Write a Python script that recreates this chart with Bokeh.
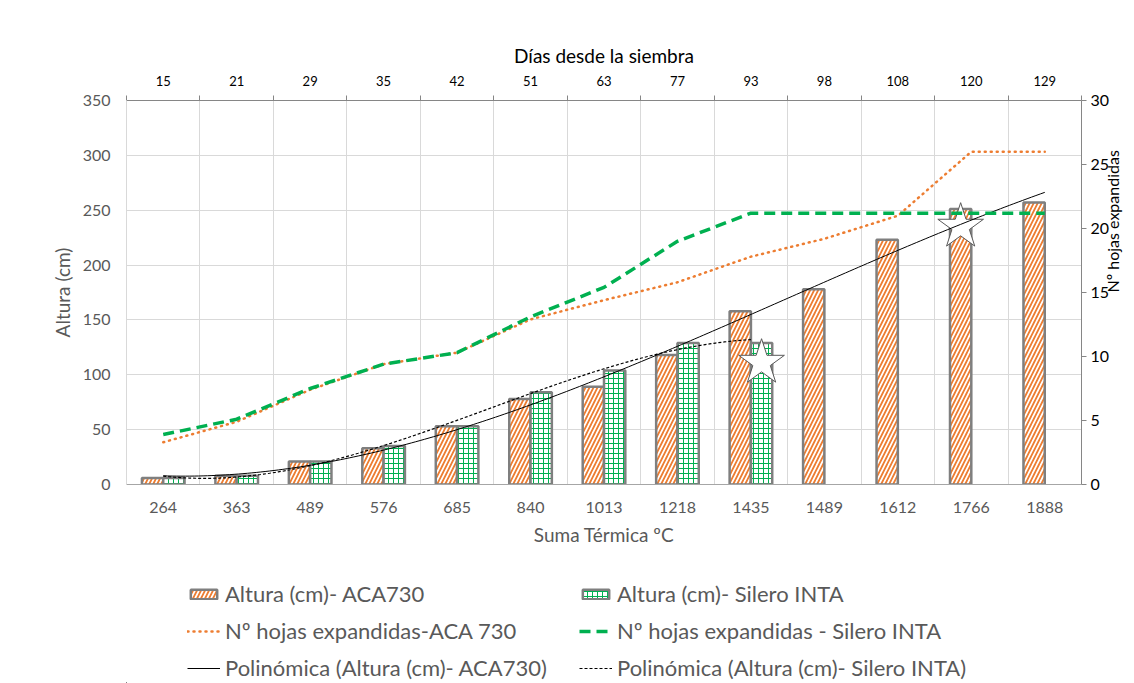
import numpy as np
from bokeh.plotting import figure
from bokeh.layouts import column
from bokeh.models import (Range1d, LinearAxis, FixedTicker, Legend, LegendItem,
                          ColumnDataSource)
from bokeh.embed import file_html
from bokeh.resources import INLINE

# ---------------- data ----------------
suma_termica = ["264", "363", "489", "576", "685", "840", "1013", "1218",
                "1435", "1489", "1612", "1766", "1888"]
dias = ["15", "21", "29", "35", "42", "51", "63", "77", "93", "98", "108",
        "120", "129"]
altura_aca = [6, 8, 21, 33, 53, 78, 89, 118, 158, 178, 223, 251, 257]
altura_silero = [6, 8, 21, 35, 53, 84, 104, 129, 129]
hojas_aca = [3.3, 4.9, 7.4, 9.4, 10.3, 12.9, 14.4, 15.8, 17.8, 19.2, 21.0, 26.0, 26.0]
hojas_silero = [3.9, 5.1, 7.5, 9.4, 10.3, 13.1, 15.4, 19.0, 21.2, 21.2, 21.2, 21.2, 21.2]
star_category = ["1435", "1766"]
star_series = ["Silero INTA", "ACA730"]
star_altura = [111, 235]
left_ticks = [0, 50, 100, 150, 200, 250, 300, 350]
right_ticks = [0, 5, 10, 15, 20, 25, 30]
legend_labels_aca = ["Altura (cm)- ACA730", "Nº hojas expandidas-ACA 730",
                     "Polinómica (Altura (cm)- ACA730)"]
legend_labels_sil = ["Altura (cm)- Silero INTA", "Nº hojas expandidas - Silero INTA",
                     "Polinómica (Altura (cm)- Silero INTA)"]

# ---------------- style ----------------
FONT = "Lato"
ORANGE = "#ED7D31"
GREEN = "#00B050"
BAR_LINE = "#7F7F7F"
GRID = "#D9D9D9"
TXT = "#595959"
AXL = "#868686"
OFF = 0.145
BW = 0.29

BAR_ACA = dict(fill_color="white", line_color=BAR_LINE, line_width=2.5,
               hatch_pattern="/", hatch_color=ORANGE, hatch_scale=8, hatch_weight=1.8)
BAR_SIL = dict(fill_color="white", line_color=BAR_LINE, line_width=2.5,
               hatch_pattern="+", hatch_color=GREEN, hatch_scale=5, hatch_weight=1)
LINE_HA = dict(line_color=ORANGE, line_width=2.5, line_dash="1 5", line_cap="round")
LINE_HS = dict(line_color=GREEN, line_width=3.5, line_dash="11 6")
LINE_TA = dict(line_color="black", line_width=1)
LINE_TS = dict(line_color="black", line_width=1.2, line_dash="3 2")

n = len(suma_termica)
centers = [i + 0.5 for i in range(n)]
bounds = list(range(n + 1))

p = figure(width=1134, height=560, x_range=Range1d(0, n), y_range=Range1d(0, 350),
           output_backend="svg", toolbar_location=None,
           min_border_left=126, min_border_right=51, min_border_top=100,
           min_border_bottom=76)
p.extra_y_ranges = {"hojas": Range1d(0, 30)}
p.outline_line_color = None
p.background_fill_color = "white"
p.border_fill_color = "white"

# grids
p.xgrid.ticker = FixedTicker(ticks=bounds)
p.ygrid.ticker = FixedTicker(ticks=left_ticks)
for g in (p.xgrid[0], p.ygrid[0]):
    g.grid_line_color = GRID
    g.grid_line_width = 1

# bottom axis
xb = p.below[0]
xb.ticker = FixedTicker(ticks=centers)
xb.major_label_overrides = {c: s for c, s in zip(centers, suma_termica)}
xb.major_tick_line_color = None
xb.minor_tick_line_color = None
xb.major_tick_out = 0
xb.major_tick_in = 0
xb.axis_line_color = "#A6A6A6"
xb.major_label_text_font = FONT
xb.major_label_text_font_size = "16px"
xb.major_label_text_color = TXT
xb.major_label_standoff = 17
xb.axis_label = "Suma Térmica ºC"
xb.axis_label_text_font = FONT
xb.axis_label_text_font_size = "19px"
xb.axis_label_text_font_style = "normal"
xb.axis_label_text_color = TXT
xb.axis_label_standoff = 7

# left axis
yl = p.left[0]
yl.ticker = FixedTicker(ticks=left_ticks)
yl.major_tick_line_color = None
yl.minor_tick_line_color = None
yl.major_tick_out = 0
yl.major_tick_in = 0
yl.axis_line_color = GRID
yl.major_label_text_font = FONT
yl.major_label_text_font_size = "16px"
yl.major_label_text_color = TXT
yl.major_label_standoff = 16
yl.axis_label = "Altura (cm)"
yl.axis_label_text_font = FONT
yl.axis_label_text_font_size = "19px"
yl.axis_label_text_font_style = "normal"
yl.axis_label_text_color = TXT
yl.axis_label_standoff = 6

# top axis (days)
xt = LinearAxis(ticker=FixedTicker(ticks=centers, minor_ticks=bounds))
xt.major_label_overrides = {c: s for c, s in zip(centers, dias)}
xt.major_tick_line_color = None
xt.major_tick_out = 0
xt.major_tick_in = 0
xt.minor_tick_line_color = AXL
xt.minor_tick_out = 5
xt.minor_tick_in = 0
xt.axis_line_color = AXL
xt.major_label_text_font = FONT
xt.major_label_text_font_size = "13px"
xt.major_label_text_color = "black"
xt.major_label_standoff = 10
xt.axis_label = "Días desde la siembra"
xt.axis_label_text_font = FONT
xt.axis_label_text_font_size = "19px"
xt.axis_label_text_font_style = "normal"
xt.axis_label_text_color = "black"
xt.axis_label_standoff = 6
p.add_layout(xt, "above")

# right axis (leaves)
yr = LinearAxis(y_range_name="hojas", ticker=FixedTicker(ticks=right_ticks))
yr.major_tick_line_color = AXL
yr.major_tick_out = 5
yr.major_tick_in = 0
yr.minor_tick_line_color = None
yr.axis_line_color = AXL
yr.major_label_text_font = FONT
yr.major_label_text_font_size = "16px"
yr.major_label_text_color = "black"
yr.major_label_standoff = 4
yr.axis_label = "Nº hojas expandidas"
yr.axis_label_orientation = np.pi / 2
yr.axis_label_text_font = FONT
yr.axis_label_text_font_size = "16px"
yr.axis_label_text_font_style = "normal"
yr.axis_label_text_color = "black"
yr.axis_label_standoff = 0
p.add_layout(yr, "right")

# bars
src_aca = ColumnDataSource(dict(x=[c - OFF for c in centers], top=altura_aca))
p.vbar(x="x", top="top", width=BW, source=src_aca, **BAR_ACA)
src_sil = ColumnDataSource(dict(x=[c + OFF for c in centers[:len(altura_silero)]],
                                top=altura_silero))
p.vbar(x="x", top="top", width=BW, source=src_sil, **BAR_SIL)

# stars
star_x = [centers[suma_termica.index(c)] + (OFF if s == "Silero INTA" else -OFF)
          for c, s in zip(star_category, star_series)]
p.scatter(star_x, star_altura, marker="star", size=48, fill_color="white",
          line_color="#595959", line_width=1)

# polynomial trendlines (order 3 fits of the bar heights)
idx_a = np.arange(len(altura_aca))
fa = np.polyfit(idx_a, altura_aca, 3)
xa = np.linspace(0, len(altura_aca) - 1, 200)
p.line(xa + 0.5, np.polyval(fa, xa), **LINE_TA)
idx_s = np.arange(len(altura_silero))
fs = np.polyfit(idx_s, altura_silero, 3)
xs = np.linspace(0, len(altura_silero) - 1, 200)
p.line(xs + 0.5, np.polyval(fs, xs), **LINE_TS)

# leaves lines
p.line(centers, hojas_aca, y_range_name="hojas", **LINE_HA)
p.line(centers, hojas_silero, y_range_name="hojas", **LINE_HS)

# ---------------- legend strip ----------------
# legend proxies: same series, drawn in a view window where they are out of sight
q = figure(width=1134, height=123, x_range=Range1d(1000, 1001),
           y_range=Range1d(1000, 1001), output_backend="svg",
           toolbar_location=None, min_border=0,
           x_axis_location=None, y_axis_location=None)
q.grid.visible = False
q.outline_line_color = None
q.background_fill_color = "white"
q.border_fill_color = "white"

g_aca = q.vbar(x=[c - OFF for c in centers], top=altura_aca, width=BW, **BAR_ACA)
g_sil = q.vbar(x=[c + OFF for c in centers[:len(altura_silero)]], top=altura_silero,
               width=BW, **BAR_SIL)
g_ha = q.line(centers, hojas_aca, **LINE_HA)
g_hs = q.line(centers, hojas_silero, **LINE_HS)
g_ta = q.line(xa + 0.5, np.polyval(fa, xa), **LINE_TA)
g_ts = q.line(xs + 0.5, np.polyval(fs, xs), **LINE_TS)


def mk_legend(labels, rends, x):
    return Legend(items=[LegendItem(label=l, renderers=[r]) for l, r in zip(labels, rends)],
                  location=(x, 2), orientation="vertical", padding=0, margin=0,
                  spacing=10, glyph_width=33, glyph_height=12, label_height=21,
                  label_standoff=5, border_line_color=None, background_fill_alpha=0,
                  label_text_font=FONT, label_text_font_size="22px",
                  label_text_color=TXT)


q.add_layout(mk_legend(legend_labels_aca, [g_aca, g_ha, g_ta], 61))
q.add_layout(mk_legend(legend_labels_sil, [g_sil, g_hs, g_ts], 453))

open("out.html", "w").write(file_html(column(p, q), INLINE))
